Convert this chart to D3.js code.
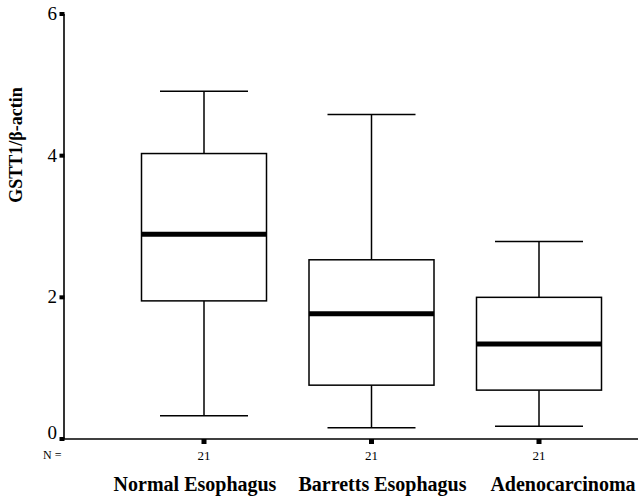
<!DOCTYPE html>
<html>
<head>
<meta charset="utf-8">
<script src="https://cdn.jsdelivr.net/npm/d3@7/dist/d3.min.js"></script>
<style>
  html, body { margin: 0; padding: 0; background: #fff; }
  svg { display: block; }
  text { font-family: "Liberation Serif", "Times New Roman", serif; fill: #000; }
</style>
</head>
<body>
<svg id="chart" width="638" height="496"></svg>
<script>
// Box-plot summaries per tissue group (GSTT1 / beta-actin ratio)
const categories = ["Normal Esophagus", "Barretts Esophagus", "Adenocarcinoma"];
const whiskerLow  = [0.33, 0.16, 0.18];
const q1          = [1.95, 0.76, 0.69];
const median      = [2.89, 1.77, 1.34];
const q3          = [4.03, 2.53, 2.00];
const whiskerHigh = [4.91, 4.58, 2.79];
const counts      = [21, 21, 21];
const yTicks      = [0, 2, 4, 6];

const svg = d3.select("#chart");

const axisX = 64, axisY = 439;

const y = d3.scaleLinear().domain([0, 6]).range([axisY, 14]);
const x = d3.scalePoint().domain(categories).range([204, 539]);

const boxW = 125, capW = 88;

// axis lines
svg.append("line").attr("x1", axisX).attr("x2", axisX)
  .attr("y1", y(6)).attr("y2", axisY)
  .attr("stroke", "#000").attr("stroke-width", 1.6);
svg.append("line").attr("x1", axisX).attr("x2", 638)
  .attr("y1", axisY).attr("y2", axisY)
  .attr("stroke", "#000").attr("stroke-width", 1.6);

// y ticks: small square marks left of the axis
const yg = svg.append("g");
yTicks.forEach(t => {
  yg.append("rect").attr("x", axisX - 4.5).attr("y", y(t) - 2)
    .attr("width", 5).attr("height", 4).attr("fill", "#000");
  yg.append("text").attr("x", axisX - 7).attr("y", y(t) + (t === 0 ? 0 : 6))
    .attr("text-anchor", "end").attr("font-size", 19).text(t);
});

// x ticks below the axis at each group
categories.forEach(c => {
  svg.append("rect").attr("x", x(c) - 2.5).attr("y", axisY)
    .attr("width", 5).attr("height", 5).attr("fill", "#000");
});

// N counts
svg.append("text").attr("x", 43).attr("y", 459).attr("font-size", 12).text("N =");
categories.forEach((c, i) => {
  svg.append("text").attr("x", x(c)).attr("y", 460)
    .attr("text-anchor", "middle").attr("font-size", 13).text(counts[i]);
});

// boxes
const g = svg.append("g").attr("stroke", "#000").attr("fill", "none");
categories.forEach((c, i) => {
  const cx = x(c);
  // whiskers
  g.append("line").attr("x1", cx).attr("x2", cx)
    .attr("y1", y(whiskerHigh[i])).attr("y2", y(q3[i])).attr("stroke-width", 1.5);
  g.append("line").attr("x1", cx).attr("x2", cx)
    .attr("y1", y(q1[i])).attr("y2", y(whiskerLow[i])).attr("stroke-width", 1.5);
  g.append("line").attr("x1", cx - capW / 2).attr("x2", cx + capW / 2)
    .attr("y1", y(whiskerHigh[i])).attr("y2", y(whiskerHigh[i])).attr("stroke-width", 1.5);
  g.append("line").attr("x1", cx - capW / 2).attr("x2", cx + capW / 2)
    .attr("y1", y(whiskerLow[i])).attr("y2", y(whiskerLow[i])).attr("stroke-width", 1.5);
  // box
  g.append("rect").attr("x", cx - boxW / 2).attr("y", y(q3[i]))
    .attr("width", boxW).attr("height", y(q1[i]) - y(q3[i]))
    .attr("fill", "#fff").attr("stroke-width", 1.5);
  // median
  g.append("line").attr("x1", cx - boxW / 2).attr("x2", cx + boxW / 2)
    .attr("y1", y(median[i])).attr("y2", y(median[i])).attr("stroke-width", 5);
});

// group names along the bottom
const labelOffset = [-9, 11, 24];
categories.forEach((c, i) => {
  svg.append("text").attr("x", x(c) + labelOffset[i]).attr("y", 491)
    .attr("text-anchor", "middle").attr("font-size", 20)
    .attr("font-weight", "bold").text(c);
});

// y axis title
svg.append("text")
  .attr("transform", "translate(22,145) rotate(-90)")
  .attr("text-anchor", "middle").attr("font-size", 18)
  .attr("font-weight", "bold").text("GSTT1/β-actin");
</script>
</body>
</html>
